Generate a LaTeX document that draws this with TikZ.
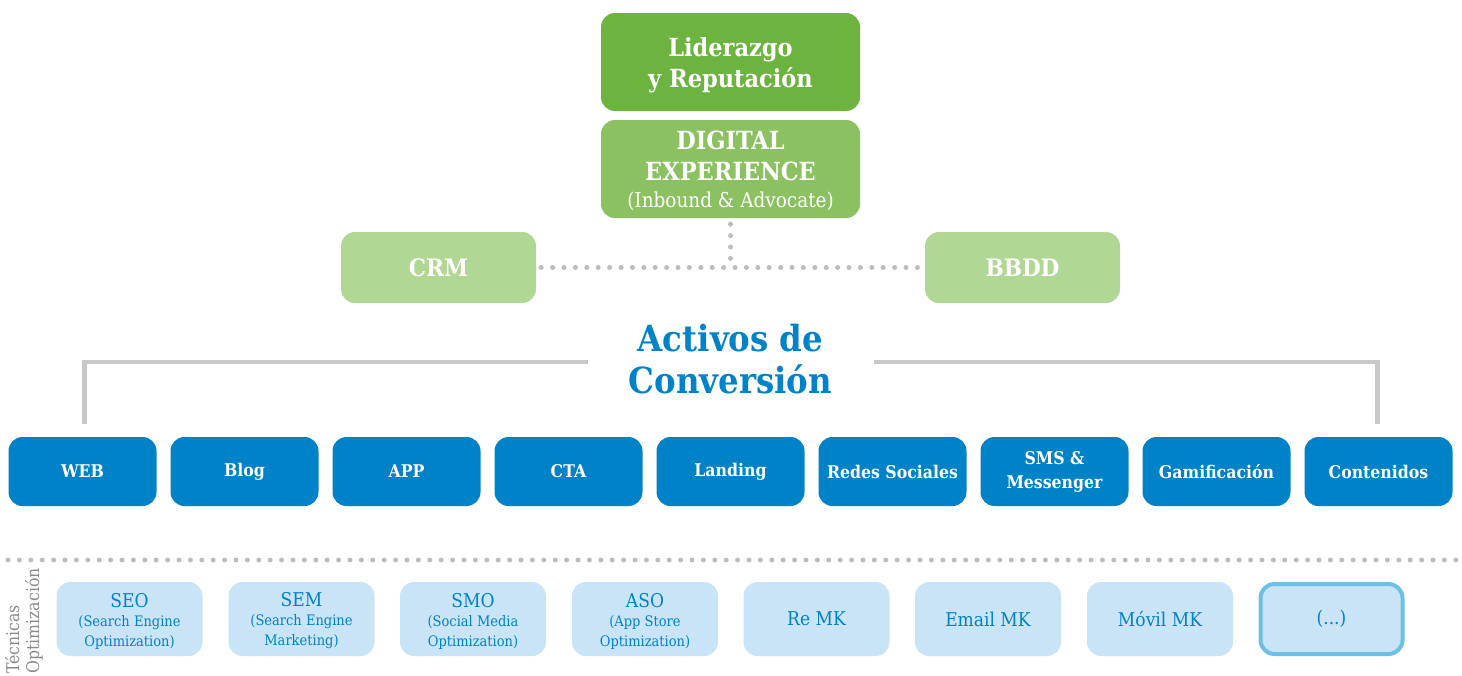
\documentclass[tikz,border=0pt]{standalone}
\usepackage{fontspec}
\setmainfont{DejaVu Serif Condensed}
\usetikzlibrary{calc}
\definecolor{gdark}{HTML}{6DB33F}
\definecolor{gmid}{HTML}{8BC161}
\definecolor{glight}{HTML}{B1D795}
\definecolor{bdark}{HTML}{0082C9}
\definecolor{blight}{HTML}{C9E4F6}
\definecolor{bborder}{HTML}{6CC0E8}
\definecolor{dotgray}{HTML}{BDBDBD}
\definecolor{linegray}{HTML}{C8C8C8}
\definecolor{txtgray}{HTML}{8A8A8A}
\tikzset{
  box/.style={rounded corners=14pt, inner sep=0pt, align=center, text=white},
  topbox/.style={box, fill=gdark, minimum width=259pt, minimum height=98pt},
  midbox/.style={box, fill=gmid, minimum width=259pt, minimum height=98pt},
  boxtext/.style={inner sep=0pt, align=center, text=white},
  sidebox/.style={box, fill=glight, minimum width=195pt, minimum height=71pt, font=\bfseries\fontsize{24}{26}\selectfont},
  assetbox/.style={box, fill=bdark, minimum width=148pt, minimum height=69pt, font=\bfseries\fontsize{17.5}{24}\selectfont},
  techbox/.style={box, fill=blight, text=bdark, minimum width=146pt, minimum height=74pt, font=\fontsize{19}{20}\selectfont},
  dotline/.style={dotgray, line width=5pt, line cap=round, dash pattern=on 0pt off 11.4pt},
  bracket/.style={linegray, line width=4.5pt}
}
\newcommand{\smalltxt}{\fontsize{14.5}{17.5}\selectfont}
\newcommand{\bigbold}{\bfseries\fontsize{25}{31}\selectfont}
\newcommand{\regtxt}{\mdseries\fontsize{20.5}{22}\selectfont}
\begin{document}
\begin{tikzpicture}[x=1pt,y=-1pt]
\useasboundingbox (0,0) rectangle (1462,675);
% top boxes
\node[topbox] (lid) at (730.5,62) {};
\node[boxtext, font=\bigbold] (lidtxt) at ($(lid.center)+(0,3)$) {Liderazgo\\y Reputación};
\node[midbox] (dx) at (730.5,169) {};
\node[boxtext, font=\bigbold] (dxtxt) at ($(dx.center)+(0,2)$) {DIGITAL\\EXPERIENCE\\[-4pt]\regtxt (Inbound \& Advocate)};
\node[sidebox] (crm) at (438.5,267.5) {CRM};
\node[sidebox] (bbdd) at (1022.5,267.5) {BBDD};
\coordinate (junc) at (730.5,267.5);
\draw[dotline] ($(crm.east)+(5,0)$) -- (junc) -- ($(bbdd.west)+(-5,0)$);
\draw[dotline] ($(dx.south)+(0,6)$) -- (junc);
% title
\node[text=bdark, font=\bfseries\fontsize{36}{42}\selectfont, align=center] (title) at (730.5,359) {Activos de\\Conversión};
% asset boxes
\foreach \i/\name/\txt in {0/web/WEB,1/blog/Blog,2/app/APP,3/cta/CTA,4/land/Landing,5/redes/Redes Sociales,6/sms/{SMS \&\\Messenger},7/gam/Gamificación,8/cont/Contenidos}{
  \node[assetbox] (\name) at (82.5+162*\i,471.5) {\txt};
}
\draw[bracket] ($(web.north)+(2,-13)$) |- (588,362);
\draw[bracket] ($(cont.north)+(-1,-13)$) |- (874,362);
% dotted separator
\coordinate (sepL) at (8,560);
\coordinate (sepR) at (1458,560);
\draw[dotline] (sepL) -- (sepR);
% side label
\node[text=txtgray, rotate=90, anchor=north west, align=left, font=\fontsize{17.5}{20}\selectfont, inner sep=0pt] (lab) at (5,674) {Técnicas\\Optimización};
% technique boxes
\node[techbox] (seo) at (129.5,619) {};
\node[techbox] (sem) at (301.5,619) {};
\node[techbox] (smo) at (473,619) {};
\node[techbox] (aso) at (645,619) {};
\node[text=bdark, inner sep=0pt, align=center, font=\fontsize{19}{20}\selectfont] (seotxt) at ($(seo.center)+(0,2)$) {SEO\\[-1pt]\smalltxt (Search Engine\\\smalltxt Optimization)};
\node[text=bdark, inner sep=0pt, align=center, font=\fontsize{19}{20}\selectfont] (semtxt) at ($(sem.center)+(0,2)$) {SEM\\[-1pt]\smalltxt (Search Engine\\\smalltxt Marketing)};
\node[text=bdark, inner sep=0pt, align=center, font=\fontsize{19}{20}\selectfont] (smotxt) at ($(smo.center)+(0,2)$) {SMO\\[-1pt]\smalltxt (Social Media\\\smalltxt Optimization)};
\node[text=bdark, inner sep=0pt, align=center, font=\fontsize{19}{20}\selectfont] (asotxt) at ($(aso.center)+(0,2)$) {ASO\\[-1pt]\smalltxt (App Store\\\smalltxt Optimization)};
\node[techbox] (remk) at (816.5,619) {Re MK};
\node[techbox] (email) at (988,619) {Email MK};
\node[techbox] (movil) at (1160,619) {Móvil MK};
\node[techbox, draw=bborder, line width=4pt, minimum width=142pt, minimum height=70pt] (etc) at (1331.5,619) {(...)};
\end{tikzpicture}
\end{document}
